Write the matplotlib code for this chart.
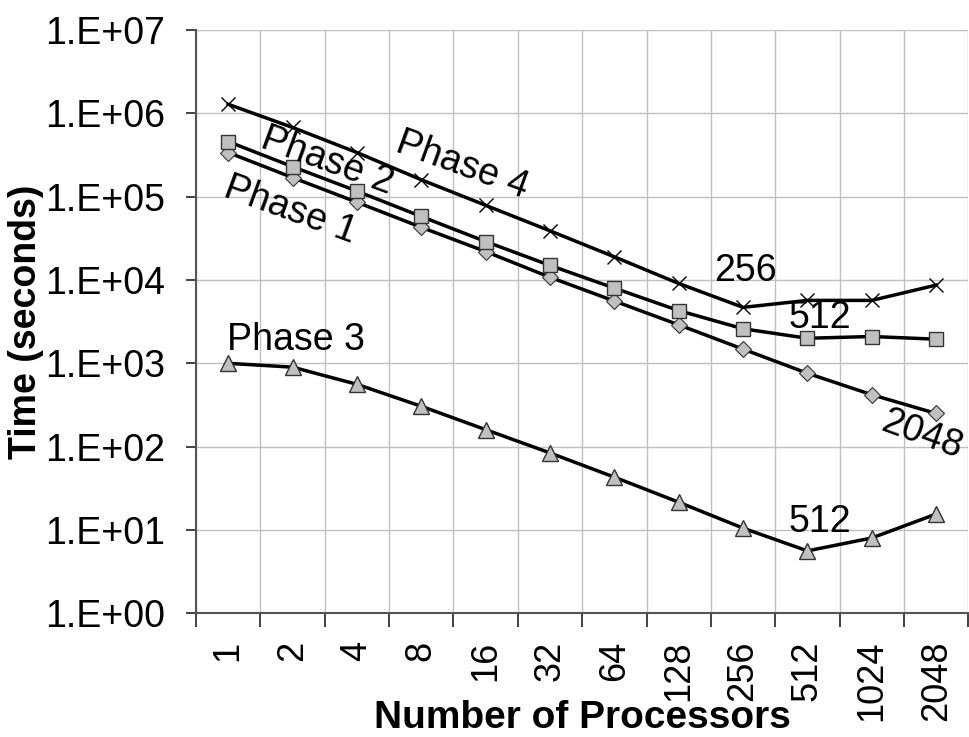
import numpy as np
import matplotlib
matplotlib.use("Agg")
import matplotlib.pyplot as plt
from matplotlib.ticker import FixedLocator, NullFormatter

plt.rcParams['font.family'] = ['Liberation Sans', 'DejaVu Sans']

# processors (categories) and timings per phase
procs = ['1', '2', '4', '8', '16', '32', '64', '128', '256', '512', '1024', '2048']
phase1 = [3.4e5, 1.7e5, 8.6e4, 4.3e4, 2.2e4, 1.08e4, 5.6e3, 2.9e3, 1.48e3, 7.6e2, 4.2e2, 2.5e2]
phase2 = [4.6e5, 2.3e5, 1.17e5, 5.8e4, 2.9e4, 1.5e4, 8.0e3, 4.3e3, 2.6e3, 2.0e3, 2.1e3, 1.95e3]
phase3 = [1.0e3, 9.0e2, 5.6e2, 3.05e2, 1.6e2, 84, 43, 21.5, 10.5, 5.6, 8.0, 15.5]
phase4 = [1.29e6, 6.8e5, 3.4e5, 1.6e5, 7.9e4, 3.9e4, 1.9e4, 9.1e3, 4.7e3, 5.7e3, 5.7e3, 8.7e3]

x = np.arange(len(procs))

fig = plt.figure(figsize=(9.69, 7.37), dpi=100)
ax = fig.add_axes([0.2023, 0.168, 0.797, 0.791])

grey = '#c0c0c0'
ax.plot(x, phase1, color='black', lw=2.5, marker='D', ms=8, mfc=grey, mec='#333333', mew=0.8, zorder=3)
ax.plot(x, phase2, color='black', lw=2.5, marker='s', ms=10, mfc=grey, mec='#333333', mew=1.0, zorder=3)
ax.plot(x, phase3, color='black', lw=2.5, marker='^', ms=11, mfc=grey, mec='#333333', mew=1.0, zorder=3)
ax.plot(x, phase4, color='black', lw=2.5, marker='x', ms=10, mec='black', mew=1.0, zorder=3)

ax.set_yscale('log')
ax.set_ylim(1, 1e7)
ax.set_xlim(-0.5, len(procs) - 0.5)

ax.set_yticks([10.0 ** k for k in range(8)])
ax.set_yticklabels(['1.E+%02d' % k for k in range(8)])
ax.yaxis.set_minor_locator(FixedLocator([]))
ax.yaxis.set_minor_formatter(NullFormatter())

ax.set_xticks(x)
ax.set_xticklabels(procs, rotation=90)
ax.xaxis.set_minor_locator(FixedLocator(np.arange(-0.5, len(procs), 1.0)))
ax.tick_params(axis='x', which='major', length=0, pad=20, labelsize=26)
ax.tick_params(axis='x', which='minor', length=10, width=1.2, color='#222222')
ax.tick_params(axis='y', which='major', length=7, width=1.2, color='#222222', labelsize=27, pad=15)

ax.grid(True, axis='x', which='minor', color=grey, lw=1.0)
ax.grid(True, axis='y', which='major', color=grey, lw=1.0)
ax.grid(False, axis='x', which='major')
ax.set_axisbelow(True)

for s in ['top', 'right']:
    ax.spines[s].set_visible(False)
for s in ['left', 'bottom']:
    ax.spines[s].set_color('#555555')
    ax.spines[s].set_linewidth(1.5)

ax.set_ylabel('Time (seconds)', fontsize=27, fontweight='bold', va='center')
ax.yaxis.set_label_coords(-0.220, 0.5)
ax.set_xlabel('Number of Processors', fontsize=28, fontweight='bold')
ax.xaxis.set_label_coords(0.5, -0.18)
ax.xaxis.label.set_va('center')

txt = dict(fontsize=27, ha='center', va='center', zorder=4)
ax.text(3.63, 2.4e5, 'Phase 4', rotation=-20, **txt)
ax.text(1.54, 2.7e5, 'Phase 2', rotation=-20, **txt)
ax.text(0.96, 6.9e4, 'Phase 1', rotation=-20, **txt)
ax.text(1.06, 1.9e3, 'Phase 3', **txt)
ax.text(8.04, 1.3e4, '256', **txt)
ax.text(9.19, 3.5e3, '512', **txt)
ax.text(10.78, 1.37e2, '2048', rotation=-20, **txt)
ax.text(9.2, 12.4, '512', **txt)

fig.savefig('out.png', dpi=100)
